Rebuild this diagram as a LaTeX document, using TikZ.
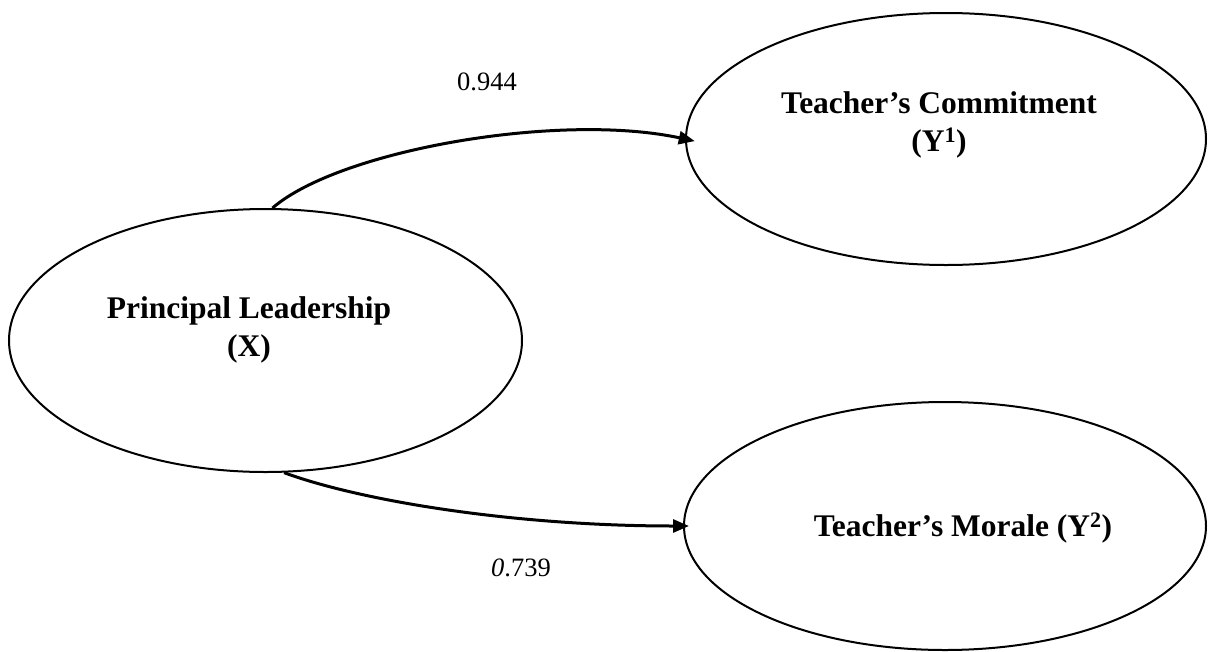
\documentclass[tikz,border=0pt]{standalone}
\usepackage{fontspec}
\setmainfont{Liberation Serif}
\usetikzlibrary{shapes.geometric, arrows.meta}

\begin{document}
\begin{tikzpicture}[>={Triangle[length=16pt,width=13pt]}, x=1pt, y=-1pt,
  latent/.style={draw, ellipse, line width=2pt, inner sep=0pt},
  varname/.style={font=\fontsize{31.5}{37.5}\selectfont\bfseries, align=center, inner sep=0pt},
  coef/.style={font=\fontsize{26.5}{30}\selectfont, inner sep=0pt},
  effect/.style={->, line width=3pt}]

% --- Canvas ---
\useasboundingbox (0,0) rectangle (1208,651);

% --- Latent variables ---
\node[latent, minimum width=513pt, minimum height=263pt] (lead) at (265.5,340.5) {};
\node[latent, minimum width=520pt, minimum height=252pt] (commit) at (946,139) {};
\node[latent, minimum width=522pt, minimum height=248pt] (morale) at (945,526) {};

% --- Variable names ---
\node[varname] (leadtxt) at (249,330) {Principal Leadership\\(X)};
\node[varname] (committxt) at (939,125) {Teacher's Commitment\\(Y\textsuperscript{1})};
\node[varname] (moraletxt) at (963,528) {Teacher's Morale (Y\textsuperscript{2})};

% --- Paths (X -> Y1, X -> Y2) ---
\draw[effect, shorten >=-10pt] (lead.87) .. controls +(67,-58) and +(-126,-27) .. (commit.west);
\draw[effect, shorten >=-6pt] (lead.-82) .. controls +(76,28) and +(-170,0) .. (morale.west);

% --- Coefficients ---
\node[coef] (b1) at (487,82) {0.944};
\node[coef] (b2) at (521,568) {{\itshape 0}.739};

\end{tikzpicture}
\end{document}
